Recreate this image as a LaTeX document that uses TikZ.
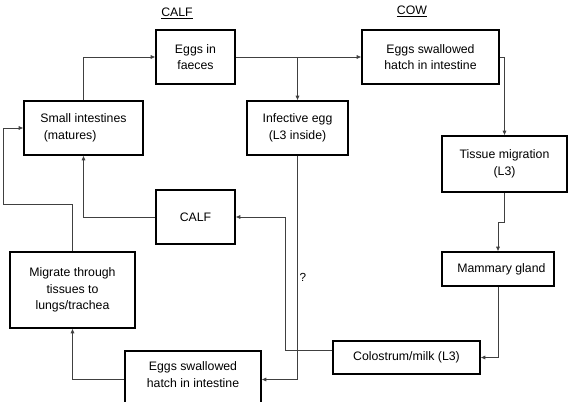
\documentclass[tikz,border=0pt]{standalone}
\usepackage{fontspec}
\setmainfont{Liberation Sans}
\usetikzlibrary{arrows.meta,positioning}

\tikzset{
    box/.style={draw, line width=1.1pt, align=center, inner sep=2pt,
        font=\fontsize{10.5}{14}\selectfont},
    link/.style={draw=black!75, line width=0.6pt, -{Latex[length=4pt,width=3.5pt]}},
    plain/.style={draw=black!75, line width=0.6pt}
}

\begin{document}
\begin{tikzpicture}[x=0.03cm, y=-0.03cm]
    \useasboundingbox (0,0) rectangle (570,402);

    % Headings
    \node (calfhead) at (177,13) {\fontsize{10.5}{12}\selectfont\underline{CALF}};
    \node (cowhead) at (412,11) {\fontsize{10.5}{12}\selectfont\underline{COW}};

    % Boxes
    \node [box, minimum width=2.37cm, minimum height=1.62cm] (faeces) at (195.5,57) {Eggs in\\faeces};
    \node [box, minimum width=3.57cm, minimum height=1.62cm, align=left] (smallint) at (83.5,128) {Small intestines\\\ (matures)};
    \node [box, minimum width=3.03cm, minimum height=1.62cm] (infective) at (297.5,128) {Infective egg\\(L3 inside)};
    \node [box, minimum width=4.11cm, minimum height=1.62cm] (coweggs) at (430.5,57) {Eggs swallowed\\hatch in intestine};
    \node [box, minimum width=3.75cm, minimum height=1.68cm] (tissue) at (504.5,164) {Tissue migration\\(L3)};
    \node [box, minimum width=2.37cm, minimum height=1.62cm] (calfbox) at (195.5,217) {CALF};
    \node [box, minimum width=3.75cm, minimum height=2.28cm] (migrate) at (72.5,290) {Migrate through\\tissues to\\lungs/trachea};
    \node [box, minimum width=4.08cm, minimum height=1.71cm, text depth=0.3cm] (calfeggs) at (193,379.5) {Eggs swallowed\\hatch in intestine};
    \node [box, minimum width=3.36cm, minimum height=1.02cm] (mammary) at (498,269) {\ \ Mammary gland};
    \node [box, minimum width=4.41cm, minimum height=0.99cm] (colostrum) at (406.5,357.5) {Colostrum/milk (L3)};

    % Turning points
    \coordinate (milkturn) at (285,350);
    \coordinate (loopturn) at (3,204);

    % Arrows
    \draw [link] (smallint.north) |- (faeces.west);
    \draw [link] (faeces.east) -| (infective.north);
    \draw [link] (infective.north |- coweggs.west) -- (coweggs.west);
    \draw [link] (coweggs.east) -| (tissue.north);
    \draw [link] (tissue.south) -- ++(0,30) -| (mammary.north);
    \draw [link] (mammary.south) |- (colostrum.east);
    \draw [plain] (colostrum.west |- milkturn) -- (milkturn);
    \draw [link] (milkturn) |- (calfbox.east);
    \draw [link] (infective.south) |- (calfeggs.east);
    \draw [link] (calfbox.west) -| (smallint.south);
    \draw [link] (calfeggs.west) -| (migrate.south);
    \draw [link] (migrate.north) |- (loopturn) |- (smallint.west);

    % Question mark
    \node [font=\fontsize{10}{12}\selectfont] (query) at (303,277) {?};
\end{tikzpicture}
\end{document}
